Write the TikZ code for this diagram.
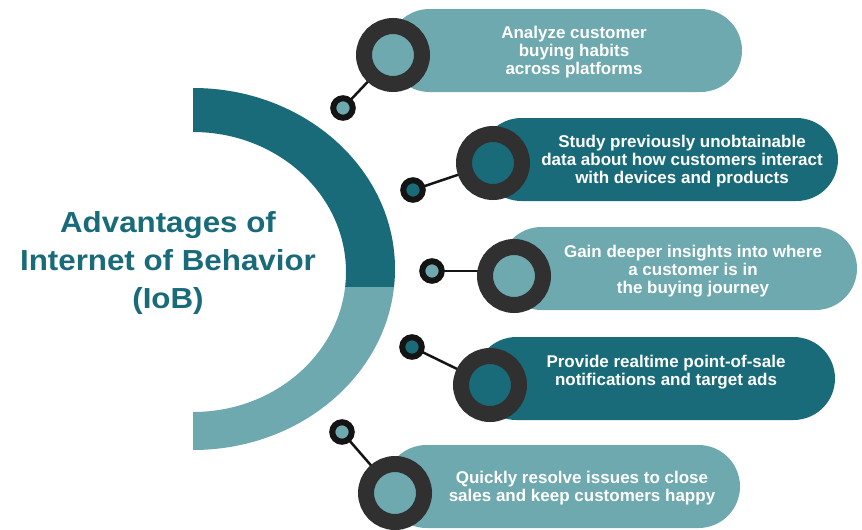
\documentclass[tikz,border=0pt]{standalone}
\usepackage{fontspec}
\setmainfont{Liberation Sans}

\definecolor{tealdark}{HTML}{1A6B79}
\definecolor{teallight}{HTML}{6DA9AF}
\definecolor{ringgray}{HTML}{303030}

\pgfdeclarelayer{canvas}
\pgfdeclarelayer{links}
\pgfsetlayers{canvas,links,main}

\begin{document}
\begin{tikzpicture}[x=1pt,y=-1pt,
  pill/.style={rectangle, rounded corners=41.5pt, minimum height=83pt, inner sep=0pt, outer sep=0pt},
  bigring/.style={circle, draw=ringgray, line width=16pt, minimum size=58pt, inner sep=0pt},
  dot/.style={circle, draw=black!92, line width=6pt, minimum size=19.5pt, inner sep=0pt},
  link/.style={draw=black!92, line width=2.5pt},
  blurb/.style={text=white, font=\bfseries\fontsize{17}{18.3}\selectfont, align=center, inner sep=0pt},
  headline/.style={text=tealdark, font=\bfseries\fontsize{29}{38}\selectfont, align=center, inner sep=0pt}]

\useasboundingbox (0,0) rectangle (862,530);
\begin{pgfonlayer}{canvas}
  \fill[white] (0,0) rectangle (862,530);
\end{pgfonlayer}

% half ring: dark upper part, light lower part
\begin{scope}
  \clip (150,60) rectangle (420,287);
  \fill[tealdark] (193,88) arc[start angle=90, end angle=-90, x radius=202pt, y radius=181pt]
    -- (193,412) arc[start angle=-90, end angle=90, x radius=153pt, y radius=140pt] -- cycle;
\end{scope}
\begin{scope}
  \clip (150,287) rectangle (420,470);
  \fill[teallight] (193,88) arc[start angle=90, end angle=-90, x radius=202pt, y radius=181pt]
    -- (193,412) arc[start angle=-90, end angle=90, x radius=153pt, y radius=140pt] -- cycle;
\end{scope}

% title
\node[headline, xscale=1.08, transform shape] (head) at (168,263)
  {Advantages of\\Internet of Behavior\\(IoB)};

% pills
\node[pill, fill=teallight, minimum width=354pt] (b1) at (565,50.5) {};
\node[pill, fill=tealdark,  minimum width=358pt] (b2) at (659,159.5) {};
\node[pill, fill=teallight, minimum width=357pt] (b3) at (678.5,268.5) {};
\node[pill, fill=tealdark,  minimum width=360pt] (b4) at (655,378.5) {};
\node[pill, fill=teallight, minimum width=355pt] (b5) at (562.5,486.5) {};

% big rings
\node[bigring, fill=teallight] (r1) at (393,55) {};
\node[bigring, fill=tealdark]  (r2) at (493,163) {};
\node[bigring, fill=teallight] (r3) at (514,276) {};
\node[bigring, fill=tealdark]  (r4) at (490,385) {};
\node[bigring, fill=teallight] (r5) at (395,493) {};

% small dots
\node[dot, fill=teallight] (s1) at (343,108) {};
\node[dot, fill=tealdark]  (s2) at (413,190) {};
\node[dot, fill=teallight] (s3) at (432,271) {};
\node[dot, fill=tealdark]  (s4) at (412,347) {};
\node[dot, fill=teallight] (s5) at (342,432) {};

% connectors
\begin{pgfonlayer}{links}
  \draw[link] (s1.center) -- (r1.center);
  \draw[link] (s2.center) -- (r2.center);
  \draw[link] (s3.center) -- (s3 -| r3);
  \draw[link] (s4.center) -- (r4.center);
  \draw[link] (s5.center) -- (r5.center);
\end{pgfonlayer}

% texts
\node[blurb] (t1) at (574,52) {Analyze customer\\buying habits\\across platforms};
\node[blurb] (t2) at (682,161) {Study previously unobtainable\\data about how customers interact\\with devices and products};
\node[blurb] (t3) at (693,271) {Gain deeper insights into where\\a customer is in\\the buying journey};
\node[blurb] (t4) at (666,372) {Provide realtime point-of-sale\\notifications and target ads};
\node[blurb] (t5) at (582,488) {Quickly resolve issues to close\\sales and keep customers happy};
\end{tikzpicture}
\end{document}
